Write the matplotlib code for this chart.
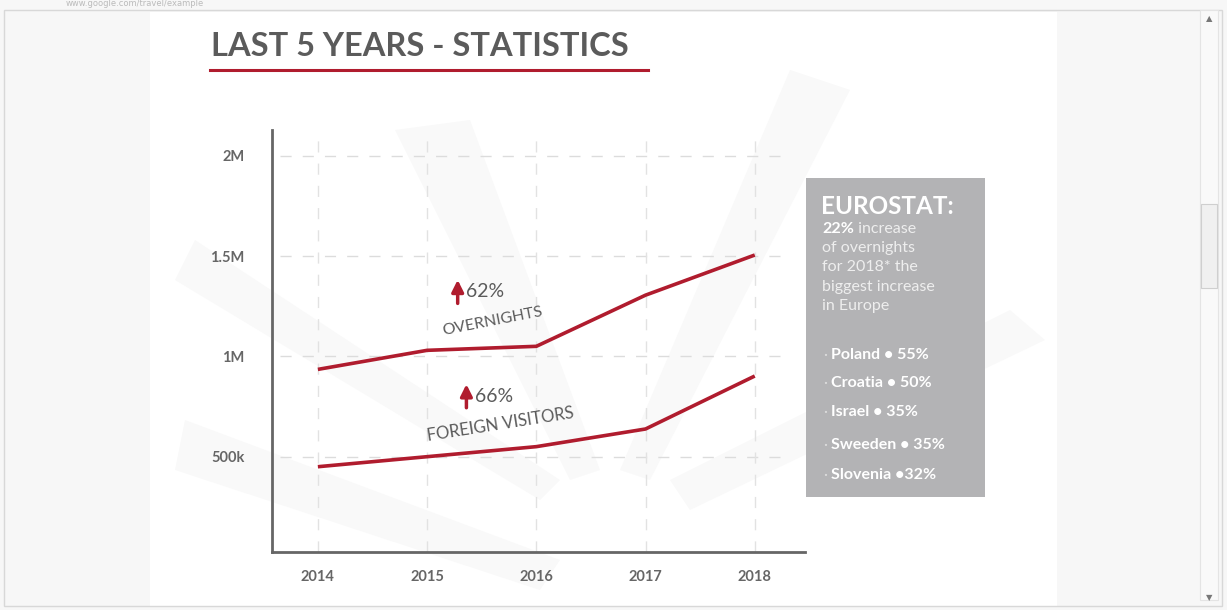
import matplotlib
matplotlib.use("Agg")
import matplotlib.pyplot as plt
from matplotlib.patches import Rectangle, Polygon
from matplotlib.text import Annotation

# chart data
years = [2014, 2015, 2016, 2017, 2018]
overnights = [935000, 1030000, 1050000, 1305000, 1505000]
foreign_visitors = [450000, 500000, 550000, 638000, 902000]

y_ticks = [500000, 1000000, 1500000, 2000000]
y_tick_labels = ["500k", "1M", "1.5M", "2M"]

eurostat_lines = ["of overnights", "for 2018* the", "biggest increase", "in Europe"]
countries = ["Poland • 55%", "Croatia • 50%", "Israel • 35%", "Sweeden • 35%", "Slovenia •32%"]

W, H = 1227, 610
RED = "#b01c2e"
TXT = "#5b5b5b"
FONT = "Lato"


def fx(x):
    return x / W


def fy(y):
    return 1 - y / H


fig = plt.figure(figsize=(W / 100, H / 100), dpi=100)
fig.patch.set_facecolor("#f7f7f7")

# window chrome: slide area, border, scrollbar
fig.add_artist(Rectangle((fx(150), fy(606)), fx(1057 - 150), (606 - 12) / H,
                         transform=fig.transFigure, facecolor="white", edgecolor="none", zorder=-3))
fig.add_artist(Rectangle((fx(4), fy(606)), fx(1218), (606 - 10) / H, transform=fig.transFigure,
                         facecolor="none", edgecolor="#d8d8d8", lw=1, zorder=-3))
fig.add_artist(Rectangle((fx(1200), fy(600)), fx(18), 590 / H, transform=fig.transFigure,
                         facecolor="#f9f9f9", edgecolor="#e4e4e4", lw=0.8, zorder=-2))
fig.add_artist(Rectangle((fx(1201), fy(288)), fx(16), 84 / H, transform=fig.transFigure,
                         facecolor="#f0f0f0", edgecolor="#cfcfcf", lw=0.8, zorder=-1))
fig.text(fx(1209), fy(19), "▲", fontsize=6, color="#777", ha="center", va="center")
fig.text(fx(1209), fy(598), "▼", fontsize=6, color="#777", ha="center", va="center")
fig.text(fx(66), fy(3), "www.google.com/travel/example", fontsize=6, color="#bbbbbb", va="center")

# faint sunburst rays behind the chart
rays = [
    [(175, 470), (185, 420), (560, 560), (540, 590)],
    [(175, 280), (195, 240), (560, 480), (540, 500)],
    [(395, 130), (470, 120), (600, 470), (570, 480)],
    [(790, 70), (850, 90), (650, 480), (620, 470)],
    [(1010, 310), (1045, 340), (690, 510), (670, 480)],
]
for r in rays:
    fig.add_artist(Polygon([(fx(x), fy(y)) for x, y in r], closed=True, transform=fig.transFigure,
                           facecolor="#f9f9f9", edgecolor="none", zorder=-2))

# title with red underline
fig.text(fx(211), fy(47), "LAST 5 YEARS - STATISTICS", fontsize=23.5, fontweight="bold",
         family=FONT, color=TXT, va="center", ha="left")
fig.add_artist(plt.Line2D([fx(210), fx(648)], [fy(70), fy(70)], transform=fig.transFigure,
                          color=RED, lw=2.2))

# main axes
ax = fig.add_axes([fx(272), fy(552), fx(805 - 272), (552 - 130) / H])
ax.set_facecolor("none")
ax.set_xlim(2013.58, 2018.46)
ax.set_ylim(25000, 2128000)

for yv in y_ticks:
    ax.axhline(yv, xmin=0.015, xmax=0.965, color="#dcdcdc", lw=1, dashes=(8, 8), zorder=1)
for xv in years:
    ax.axvline(xv, color="#e2e2e2", lw=1, dashes=(8, 8), zorder=1)

ax.plot(years, overnights, color=RED, lw=2.6, solid_capstyle="butt", zorder=3)
ax.plot(years, foreign_visitors, color=RED, lw=2.6, solid_capstyle="butt", zorder=3)

for s in ["top", "right"]:
    ax.spines[s].set_visible(False)
for s in ["left", "bottom"]:
    ax.spines[s].set_color("#666666")
    ax.spines[s].set_linewidth(2)

ax.set_xticks(years)
ax.set_xticklabels([str(y) for y in years])
ax.set_yticks(y_ticks)
ax.set_yticklabels(y_tick_labels)
ax.tick_params(axis="both", length=0, colors="#666666")
ax.tick_params(axis="x", pad=13, labelsize=10.5)
ax.tick_params(axis="y", pad=20, labelsize=10.5)
for lab in ax.get_xticklabels() + ax.get_yticklabels():
    lab.set_family(FONT)
    lab.set_fontweight("bold")

# growth annotations
ax.annotate("", xy=(2015.28, 1395000), xytext=(2015.28, 1250000),
            arrowprops=dict(arrowstyle="-|>,head_width=0.35,head_length=0.7", color=RED, lw=2.5),
            zorder=4)
ax.text(2015.36, 1322000, "62%", fontsize=14, family=FONT, color=TXT, va="center", ha="left")
ax.text(2015.60, 1172000, "OVERNIGHTS", fontsize=11.5, family=FONT, color=TXT, rotation=11,
        ha="center", va="center")

ax.annotate("", xy=(2015.36, 875000), xytext=(2015.36, 730000),
            arrowprops=dict(arrowstyle="-|>,head_width=0.35,head_length=0.7", color=RED, lw=2.5),
            zorder=4)
ax.text(2015.44, 800000, "66%", fontsize=14, family=FONT, color=TXT, va="center", ha="left")
ax.text(2015.67, 660000, "FOREIGN VISITORS", fontsize=12, family=FONT, color=TXT, rotation=9,
        ha="center", va="center")

# eurostat side box
fig.add_artist(Rectangle((fx(806), fy(497)), fx(985 - 806), (497 - 178) / H,
                         transform=fig.transFigure, facecolor="#b3b3b5", edgecolor="none", zorder=2))
fig.text(fx(821), fy(207), "EUROSTAT:", fontsize=17.5, fontweight="bold", family=FONT,
         color="white", va="center", zorder=3)
t22 = fig.text(fx(822), fy(229), "22%", fontsize=11.5, fontweight="bold", family=FONT,
               color="white", va="center", zorder=3)
fig.add_artist(Annotation(" increase", xy=(1, 0.5), xycoords=t22, va="center", ha="left",
                          fontsize=11.5, family=FONT, color="#eeeeee", zorder=3))
for i, line in enumerate(eurostat_lines):
    fig.text(fx(822), fy(248 + i * 19.3), line, fontsize=11.5, family=FONT, color="#eeeeee",
             va="center", zorder=3)

country_y = [355, 383, 412, 445, 475]
for cy, name in zip(country_y, countries):
    fig.text(fx(823), fy(cy), "·", fontsize=11, family=FONT, color="#dcdcdc", va="center", zorder=3)
    fig.text(fx(831), fy(cy), name, fontsize=11.5, fontweight="bold", family=FONT,
             color="white", va="center", zorder=3)

fig.savefig("out.png", dpi=100, facecolor=fig.get_facecolor())
